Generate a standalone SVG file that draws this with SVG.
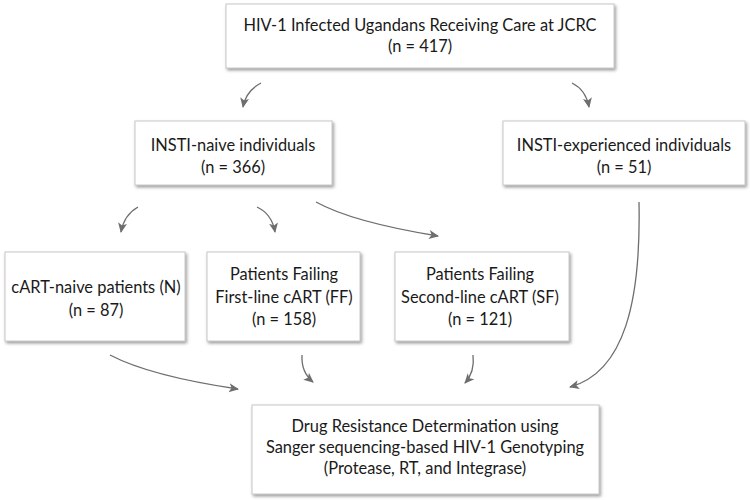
<svg xmlns="http://www.w3.org/2000/svg" width="750" height="500" viewBox="0 0 750 500">
<defs>
<filter id="sh" x="-10%" y="-10%" width="120%" height="130%">
<feDropShadow dx="1.5" dy="2" stdDeviation="1.5" flood-color="#777" flood-opacity="0.7"/>
</filter>
<marker id="ah" viewBox="0 0 10 10" refX="9" refY="5" markerWidth="10" markerHeight="10" markerUnits="userSpaceOnUse" orient="auto">
<path d="M0,0.5 L10,5 L0,9.5 L2.5,5 Z" fill="#6e6e6e"/>
</marker>
<style>
.box{fill:#fff;stroke:#c8c8c8;stroke-width:1;filter:url(#sh);}
.t{font-family:Lato,"Liberation Sans",sans-serif;font-size:16.4px;fill:#1a1a1a;text-anchor:middle;}
.c{fill:none;stroke:#6e6e6e;stroke-width:1.3;marker-end:url(#ah);}
</style>
</defs>
<rect width="750" height="500" fill="#fff"/>
<g id="top">
<rect class="box" x="226" y="4" width="388" height="64"/>
<text class="t" x="420" y="31">HIV-1 Infected Ugandans Receiving Care at JCRC</text>
<text class="t" x="420" y="52">(n = 417)</text>
</g>
<g id="naive">
<rect class="box" x="135" y="121" width="197" height="64"/>
<text class="t" x="233" y="151">INSTI-naive individuals</text>
<text class="t" x="233" y="173">(n = 366)</text>
</g>
<g id="experienced">
<rect class="box" x="503" y="121" width="242" height="64"/>
<text class="t" x="624" y="151">INSTI-experienced individuals</text>
<text class="t" x="624" y="173">(n = 51)</text>
</g>
<g id="cartnaive">
<rect class="box" x="5" y="252" width="180" height="89"/>
<text class="t" x="96" y="293">cART-naive patients (N)</text>
<text class="t" x="96" y="316">(n = 87)</text>
</g>
<g id="ff">
<rect class="box" x="207" y="252" width="153" height="89"/>
<text class="t" x="284" y="280">Patients Failing</text>
<text class="t" x="284" y="303">First-line cART (FF)</text>
<text class="t" x="284" y="325">(n = 158)</text>
</g>
<g id="sf">
<rect class="box" x="395" y="252" width="174" height="89"/>
<text class="t" x="480" y="280">Patients Failing</text>
<text class="t" x="480" y="303">Second-line cART (SF)</text>
<text class="t" x="480" y="325">(n = 121)</text>
</g>
<g id="drug">
<rect class="box" x="252" y="405" width="347" height="89"/>
<text class="t" x="425" y="432">Drug Resistance Determination using</text>
<text class="t" x="425" y="453">Sanger sequencing-based HIV-1 Genotyping</text>
<text class="t" x="425" y="474">(Protease, RT, and Integrase)</text>
</g>
<g id="connectors">
<path class="c" d="M261,83 Q246,91 243,107"/>
<path class="c" d="M572,83 Q586,90 589,107"/>
<path class="c" d="M138,207 Q124,215 121,232"/>
<path class="c" d="M257,207 Q272,214 275,232"/>
<path class="c" d="M316,202 Q352,222 438,236"/>
<path class="c" d="M110,355 Q150,376 238,389"/>
<path class="c" d="M302,355 Q301,372 313,382"/>
<path class="c" d="M473,355 Q475,372 465,383"/>
<path class="c" d="M639,202 C641,300 625,372 570,387"/>
</g>
</svg>
